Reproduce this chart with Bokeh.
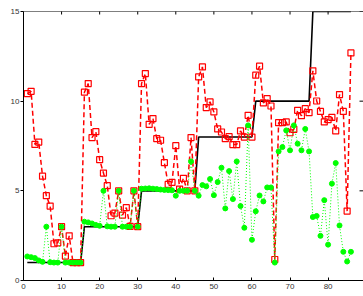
import math
from bokeh.plotting import figure
from bokeh.models import Range1d, FixedTicker, Span
from bokeh.embed import file_html
from bokeh.resources import INLINE

x = [1, 2, 3, 4, 5, 6, 7, 8, 9, 10, 11, 12, 13, 14, 15, 16, 17, 18, 19, 20,
     21, 22, 23, 24, 25, 26, 27, 28, 29, 30, 31, 32, 33, 34, 35, 36, 37, 38, 39, 40,
     41, 42, 43, 44, 45, 46, 47, 48, 49, 50, 51, 52, 53, 54, 55, 56, 57, 58, 59, 60,
     61, 62, 63, 64, 65, 66, 67, 68, 69, 70, 71, 72, 73, 74, 75, 76, 77, 78, 79, 80,
     81, 82, 83, 84, 85, 86]

black = [1, 1, 1, 1, 1, 1, 1, 1, 1, 1, 1, 1, 1, 1, 1,
         3, 3, 3, 3, 3, 3, 3, 3, 3, 3, 3, 3, 3, 3, 3,
         5, 5, 5, 5, 5, 5, 5, 5, 5, 5, 5, 5, 5, 5, 5,
         8, 8, 8, 8, 8, 8, 8, 8, 8, 8, 8, 8, 8, 8, 8,
         10, 10, 10, 10, 10, 10, 10, 10, 10, 10, 10, 10, 10, 10, 10,
         15, 15, 15, 15, 15, 15, 15, 15, 15, 15, 15]

red = [10.42, 10.55, 7.59, 7.72, 5.82, 4.73, 4.15, 2.05, 2.1, 3.0,
       1.36, 2.49, 1.0, 1.0, 1.0, 10.5, 10.98, 7.97, 8.3, 6.74,
       5.99, 5.29, 3.61, 3.76, 5.0, 3.65, 4.06, 3.02, 5.0, 3.0,
       10.98, 11.54, 8.71, 9.03, 7.91, 7.82, 6.57, 5.36, 5.47, 7.52,
       5.1, 5.7, 5.0, 7.97, 5.0, 11.35, 11.91, 9.64, 9.96, 9.4,
       8.45, 8.28, 7.91, 8.02, 7.58, 7.58, 8.34, 8.0, 9.21, 8.0,
       11.45, 11.95, 9.9, 10.14, 9.73, 1.17, 8.8, 8.8, 8.84, 8.24,
       8.43, 9.49, 9.19, 9.58, 9.36, 11.69, 10.01, 9.43, 8.84, 8.97,
       9.1, 8.34, 10.37, 9.43, 3.87, 12.69]

green = [1.34, 1.30, 1.25, 1.12, 1.04, 3.0, 1.02, 1.0, 1.0, 3.0,
         1.0, 1.0, 1.0, 1.0, 1.0, 3.28, 3.24, 3.18, 3.1, 3.05,
         5.0, 3.02, 3.0, 3.0, 5.0, 3.0, 3.0, 3.0, 5.0, 3.0,
         5.12, 5.13, 5.14, 5.12, 5.1, 5.07, 5.05, 5.04, 5.03, 4.73,
         5.0, 5.0, 5.0, 6.64, 5.0, 4.73, 5.32, 5.25, 5.66, 4.76,
         5.49, 6.29, 4.02, 6.1, 4.54, 6.64, 4.15, 2.94, 8.65, 2.27,
         3.86, 4.74, 4.41, 5.19, 5.19, 1.0, 7.2, 7.44, 8.37, 7.26,
         8.65, 7.63, 7.26, 8.45, 7.2, 3.54, 3.6, 2.49, 4.48, 2.0,
         5.4, 6.55, 3.07, 1.6, 1.06, 1.6]

x_ticks = [0, 10, 20, 30, 40, 50, 60, 70, 80, 90]
y_ticks = [0, 5, 10, 15]

X_END = 89.3
Y_END = 15

p = figure(width=363, height=296, x_range=Range1d(0, X_END), y_range=Range1d(0, Y_END),
           output_backend="svg", toolbar_location=None,
           min_border_left=23, min_border_right=0, min_border_top=11, min_border_bottom=16)
p.outline_line_color = None
p.xgrid.visible = False
p.ygrid.visible = False
p.background_fill_color = "white"

FONT = "Liberation Sans"
LBL = "#333333"

xa = p.xaxis[0]
xa.ticker = FixedTicker(ticks=x_ticks)
xa.major_tick_in = 3
xa.major_tick_out = 0
xa.minor_tick_line_color = None
xa.major_label_text_font = FONT
xa.major_label_text_font_size = "8px"
xa.major_label_text_color = LBL
xa.major_label_standoff = 3
xa.axis_line_color = "black"

ya = p.yaxis[0]
ya.ticker = FixedTicker(ticks=y_ticks)
ya.major_tick_in = 0
ya.major_tick_out = 3
ya.minor_tick_line_color = None
ya.major_label_text_font = FONT
ya.major_label_text_font_size = "8px"
ya.major_label_text_color = LBL
ya.major_label_standoff = 1
ya.axis_line_color = "black"

# top frame line with inward ticks, and inward ticks on the right edge
p.add_layout(Span(location=Y_END, dimension="width", line_color="black", line_width=1))
p.scatter(x_ticks, [Y_END] * len(x_ticks), marker="dash", angle=math.pi / 2, size=6,
          line_color="black", line_width=1)
p.scatter([X_END] * len(y_ticks), y_ticks, marker="dash", size=8,
          line_color="black", line_width=1)

p.line(x, black, line_color="black", line_width=1.6)
p.line(x, red, line_color="#ff0000", line_width=1.5, line_dash="5 3")
p.scatter(x, red, marker="square", size=6, fill_color=None, line_color="#ff0000", line_width=1.2)
p.line(x, green, line_color="#00ff00", line_width=1, line_dash="1 2")
p.scatter(x, green, marker="circle", size=5, fill_color="#00ff00", line_color="#00ff00")

open("out.html", "w").write(file_html(p, INLINE))
